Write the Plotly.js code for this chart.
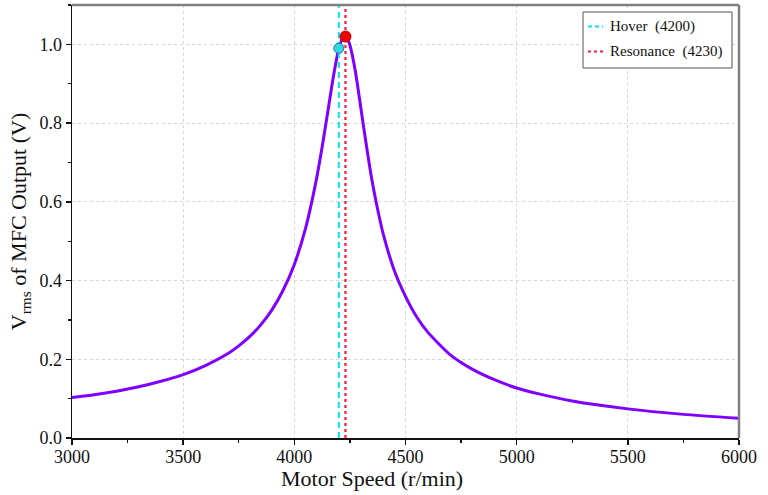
<!DOCTYPE html>
<html>
<head>
<meta charset="utf-8">
<script src="https://cdn.plot.ly/plotly-3.0.1.min.js"></script>
<style>html,body{margin:0;padding:0;background:#fff;}#chart{width:768px;height:495px;}</style>
</head>
<body>
<div id="chart"></div>
<script>
// Motor speed (r/min) and Vrms (V)
const speed = [3000, 3100, 3200, 3300, 3400, 3500, 3600, 3700, 3750, 3800, 3850, 3900, 3950, 4000, 4050, 4100, 4125, 4150, 4175, 4200, 4215, 4230, 4240, 4250, 4275, 4300, 4325, 4350, 4375, 4400, 4450, 4500, 4550, 4600, 4700, 4800, 4900, 5000, 5100, 5250, 5500, 5750, 6000];
const vrms  = [0.103, 0.110, 0.119, 0.130, 0.144, 0.161, 0.184, 0.214, 0.234, 0.258, 0.288, 0.326, 0.376, 0.441, 0.532, 0.659, 0.739, 0.827, 0.916, 0.989, 1.013, 1.02, 1.013, 0.998, 0.93, 0.835, 0.74, 0.652, 0.58, 0.518, 0.425, 0.36, 0.308, 0.269, 0.212, 0.175, 0.148, 0.127, 0.112, 0.094, 0.074, 0.060, 0.050];
const hoverSpeed = 4200, hoverV = 0.99;
const resSpeed = 4230, resV = 1.02;
const yTop = 1.1;
const legendHover = 'Hover  (4200)';
const legendRes = 'Resonance  (4230)';
const xTitle = 'Motor Speed (r/min)';
const yTitle = 'V<sub>rms</sub> of MFC Output (V)';
const xTickVals = [3000, 3500, 4000, 4500, 5000, 5500, 6000];
const yTickVals = [0, 0.2, 0.4, 0.6, 0.8, 1.0];

const font = 'Liberation Serif, Times New Roman, serif';
const cyan = '#00e5f0', red = '#ff1a3c';

const traces = [
  {x: speed, y: vrms, mode: 'lines', line: {color: '#7f00ff', width: 3, shape: 'spline', smoothing: 0.6}, showlegend: false},
  {x: [hoverSpeed, hoverSpeed], y: [0, yTop], mode: 'lines', line: {color: cyan, width: 2, dash: '6px,4px'}, showlegend: false},
  {x: [resSpeed, resSpeed], y: [0, yTop], mode: 'lines', line: {color: red, width: 2.2, dash: 'dot'}, showlegend: false},
  {x: [hoverSpeed], y: [hoverV], mode: 'markers', marker: {color: '#33d6e8', size: 10, line: {color: '#2a6f80', width: 1}}, showlegend: false},
  {x: [resSpeed], y: [resV], mode: 'markers', marker: {color: '#ee0000', size: 11, line: {color: '#b00000', width: 1}}, showlegend: false}
];

// paper-coordinate helpers (plot area: x 72..739, y 5..438)
const px = v => (v - 72) / 667;
const py = v => (438 - v) / 433;

const layout = {
  width: 768, height: 495,
  margin: {l: 72, r: 29, t: 5, b: 57},
  paper_bgcolor: '#fff', plot_bgcolor: '#fff',
  font: {family: font, color: '#111', size: 18},
  showlegend: false,
  xaxis: {
    range: [3000, 6000], tickvals: xTickVals, ticktext: xTickVals.map(String),
    showline: true, linecolor: '#111', linewidth: 1.5,
    ticks: 'outside', ticklen: 5, tickwidth: 1.5, tickcolor: '#111',
    showgrid: true, gridcolor: '#d6d6d6', griddash: '3px,3px', gridwidth: 1,
    zeroline: false,
    minor: {dtick: 250, ticks: 'outside', ticklen: 3, tickwidth: 1.2, tickcolor: '#111', showgrid: false},
    tickfont: {family: font, size: 18},
    ticklabelstandoff: -3
  },
  yaxis: {
    range: [0, yTop], tickvals: yTickVals, ticktext: yTickVals.map(v => v.toFixed(1)),
    showline: true, linecolor: '#111', linewidth: 1.5,
    ticks: 'outside', ticklen: 5, tickwidth: 1.5, tickcolor: '#111',
    showgrid: true, gridcolor: '#d6d6d6', griddash: '3px,3px', gridwidth: 1,
    zeroline: false,
    minor: {dtick: 0.1, ticks: 'outside', ticklen: 3, tickwidth: 1.2, tickcolor: '#111', showgrid: false},
    tickfont: {family: font, size: 18},
    title: {text: yTitle, font: {family: font, size: 22}, standoff: 6}
  },
  shapes: [
    {type: 'line', xref: 'paper', yref: 'paper', x0: 0, x1: 1, y0: 1, y1: 1, line: {color: '#808080', width: 2.5}},
    {type: 'line', xref: 'paper', yref: 'paper', x0: 1, x1: 1, y0: 0, y1: 1, line: {color: '#808080', width: 2.5}},
    {type: 'rect', xref: 'paper', yref: 'paper', x0: px(583), x1: px(732), y0: py(68), y1: py(12), fillcolor: '#fff', line: {color: '#555', width: 1}, layer: 'above'},
    {type: 'line', xref: 'paper', yref: 'paper', x0: px(588), x1: px(603), y0: py(26.5), y1: py(26.5), line: {color: cyan, width: 2, dash: '4px,3px'}, layer: 'above'},
    {type: 'line', xref: 'paper', yref: 'paper', x0: px(588), x1: px(604), y0: py(51.5), y1: py(51.5), line: {color: red, width: 2, dash: 'dot'}, layer: 'above'}
  ],
  annotations: [
    {xref: 'paper', yref: 'paper', x: px(608), y: py(26.5), xanchor: 'left', yanchor: 'middle', text: legendHover, showarrow: false, font: {family: font, size: 15, color: '#111'}},
    {xref: 'paper', yref: 'paper', x: px(608), y: py(51.5), xanchor: 'left', yanchor: 'middle', text: legendRes, showarrow: false, font: {family: font, size: 15, color: '#111'}},
    {xref: 'paper', yref: 'paper', x: px(372), y: py(478), xanchor: 'center', yanchor: 'middle', text: xTitle, showarrow: false, font: {family: font, size: 22, color: '#111'}}
  ]
};

Plotly.newPlot('chart', traces, layout, {displayModeBar: false, staticPlot: true});
</script>
</body>
</html>
